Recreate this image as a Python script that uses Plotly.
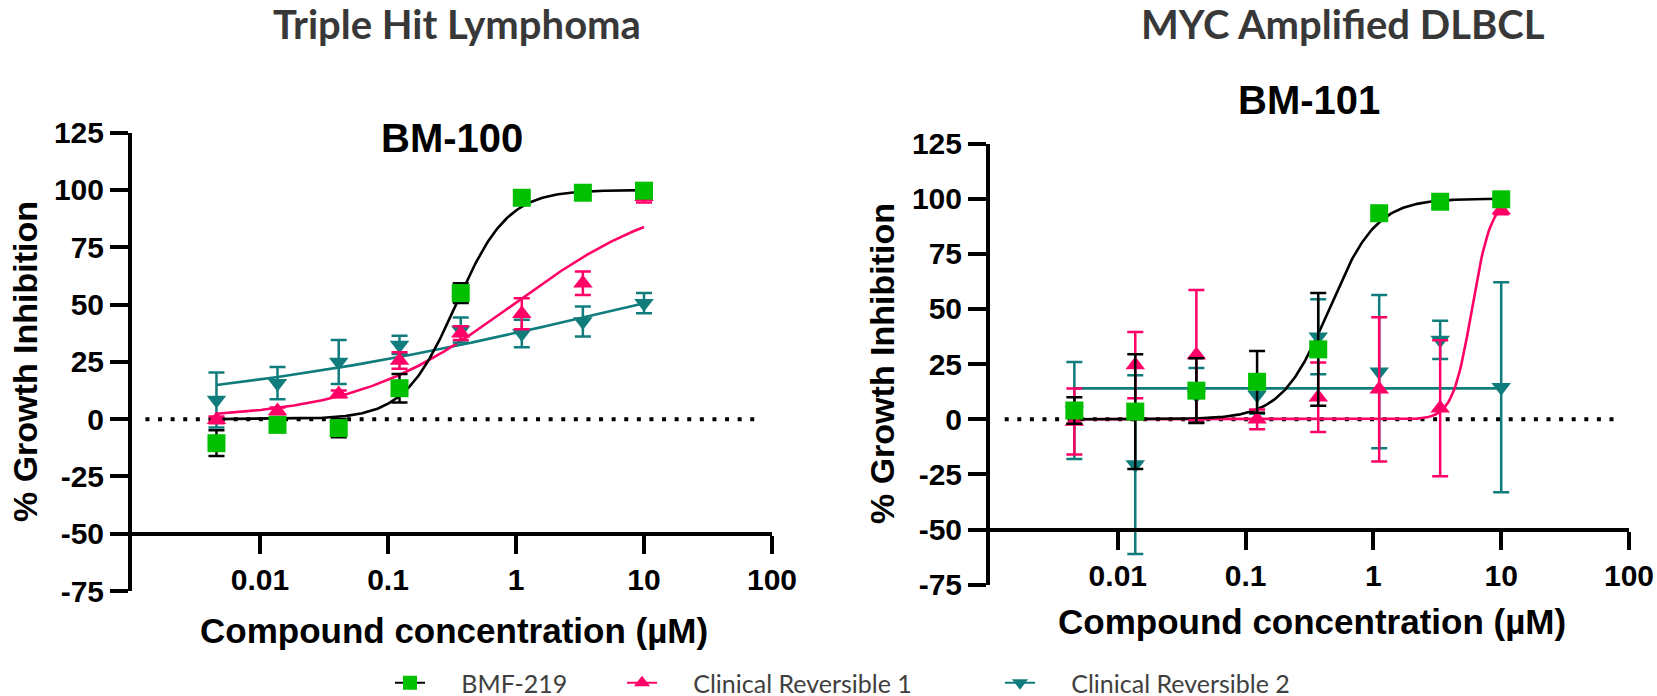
import numpy as np
import plotly.graph_objects as go

W, H = 1657, 696

# ---------------- data ----------------
conc = [0.00457, 0.0137, 0.0412, 0.123, 0.370, 1.11, 3.33, 10.0]
series_names = ["BMF-219", "Clinical Reversible 1", "Clinical Reversible 2"]
x_tickvals = [0.01, 0.1, 1, 10, 100]
x_ticktext = ["0.01", "0.1", "1", "10", "100"]
y_tickvals = [-75, -50, -25, 0, 25, 50, 75, 100, 125]
y_ticktext = ["-75", "-50", "-25", "0", "25", "50", "75", "100", "125"]

# Panel 1: BM-100 (Triple Hit Lymphoma)
bm100_bmf219 = [-10.5, -2.5, -3.9, 13.5, 55.0, 96.6, 98.8, 99.7]
bm100_bmf219_err = [5.6, 1.5, 4.0, 6.2, 4.3, 1.0, 0.8, 0.5]
bm100_cr1 = [-0.3, 3.6, 11.0, 25.6, 37.5, 46.0, 59.3, 97.0]
bm100_cr1_err = [1.5, 1.5, 1.5, 3.6, 3.0, 6.8, 5.1, 2.5]
bm100_cr2 = [8.4, 15.7, 24.9, 32.4, 38.9, 37.4, 42.6, 50.6]
bm100_cr2_err = [12.0, 7.0, 9.6, 4.0, 5.5, 6.0, 6.5, 4.4]
# fitted 4PL parameters: bottom, top, EC50, Hill
bm100_fit_bmf219 = [0.0, 100.0, 0.34, 2.15]
bm100_fit_cr1 = [0.0, 100.0, 0.95, 0.70]
bm100_fit_cr2 = [0.0, 100.0, 9.0, 0.23]

# Panel 2: BM-101 (MYC Amplified DLBCL)
bm101_bmf219 = [4.0, 3.5, 13.0, 17.0, 31.7, 93.4, 98.6, 99.7]
bm101_bmf219_err = [6.0, 26.0, 14.7, 14.0, 25.5, 1.0, 1.0, 0.5]
bm101_cr1 = [-1.0, 24.6, 29.1, 0.0, 10.0, 13.6, 5.0, 94.9]
bm101_cr1_err = [15.0, 15.0, 29.5, 4.5, 15.7, 32.7, 30.8, 2.0]
bm101_cr2 = [4.0, -20.5, 11.0, 11.0, 37.4, 21.6, 36.0, 14.5]
bm101_cr2_err = [22.0, 40.5, 12.3, 8.5, 17.0, 34.7, 8.7, 47.6]
bm101_fit_bmf219 = [0.0, 100.0, 0.45, 2.35]
bm101_fit_cr1 = [0.0, 100.0, 5.9, 5.8]
bm101_fit_cr2 = [14.0, 14.0, 1.0, 1.0]

# ---------------- style ----------------
GREEN, PINK, TEAL = "#00C000", "#FF0066", "#117C7C"
ARIAL = "Liberation Sans, Arial, sans-serif"
SOFT = "Lato, Open Sans, sans-serif"


def four_pl(x, p):
    bottom, top, ec50, hill = p
    return bottom + (top - bottom) / (1.0 + (ec50 / x) ** hill)


def px_x(p):
    return p / W


def px_y(p):
    return 1 - p / H


fig = go.Figure()

panels = [
    dict(xa="x", ya="y",
         data=[(bm100_bmf219, bm100_bmf219_err, bm100_fit_bmf219),
               (bm100_cr1, bm100_cr1_err, bm100_fit_cr1),
               (bm100_cr2, bm100_cr2_err, bm100_fit_cr2)]),
    dict(xa="x2", ya="y2",
         data=[(bm101_bmf219, bm101_bmf219_err, bm101_fit_bmf219),
               (bm101_cr1, bm101_cr1_err, bm101_fit_cr1),
               (bm101_cr2, bm101_cr2_err, bm101_fit_cr2)]),
]

line_cols = ["black", PINK, TEAL]
mark_cols = [GREEN, PINK, TEAL]
symbols = ["square", "triangle-up", "triangle-down"]
sizes = [18, 17, 17]

xfit = np.logspace(np.log10(conc[0]), np.log10(conc[-1]), 300)

for pan in panels:
    order = [2, 1, 0]
    for i in order:
        vals, errs, fit = pan["data"][i]
        fig.add_trace(go.Scatter(
            x=xfit, y=four_pl(xfit, fit), mode="lines",
            line=dict(color=line_cols[i], width=2.6),
            xaxis=pan["xa"], yaxis=pan["ya"], showlegend=False, hoverinfo="skip"))
    for i in order:
        vals, errs, fit = pan["data"][i]
        fig.add_trace(go.Scatter(
            x=conc, y=vals, mode="markers",
            marker=dict(symbol=symbols[i], size=sizes[i], color=mark_cols[i], line=dict(width=0)),
            error_y=dict(type="data", array=errs, visible=True, color=line_cols[i],
                         thickness=2.5, width=8),
            xaxis=pan["xa"], yaxis=pan["ya"], showlegend=False, cliponaxis=False))

# legend-only traces, one legend each
legend_ids = ["legend", "legend2", "legend3"]
for i in range(3):
    fig.add_trace(go.Scatter(
        x=[None], y=[None], mode="lines+markers", name="\u2003\u2002" + series_names[i],
        line=dict(color=line_cols[i], width=2),
        marker=dict(symbol=symbols[i], size=14, color=mark_cols[i]),
        legend=legend_ids[i], showlegend=True, xaxis="x", yaxis="y"))

# ---------------- layout ----------------
tickfont = dict(family=ARIAL, size=30, color="black", weight=700)
axis_common = dict(showline=True, linewidth=4, linecolor="black", ticks="outside",
                   ticklen=18, tickwidth=4, tickcolor="black", showgrid=False,
                   zeroline=False, tickfont=tickfont, automargin=False)

L = dict(x0=132, x1=772, ytop=132.7, ybot=591, xaxis_y=534)
R = dict(x0=990, x1=1629, ytop=143.5, ybot=584.8, xaxis_y=529.6)

layout_axes = {}
for k, P in (("", L), ("2", R)):
    layout_axes["xaxis" + k] = dict(
        axis_common, type="log", range=[-3, 2], domain=[px_x(P["x0"]), px_x(P["x1"])],
        anchor="free", position=px_y(P["xaxis_y"]), tickmode="array",
        tickvals=x_tickvals, ticktext=x_ticktext)
    layout_axes["yaxis" + k] = dict(
        axis_common, range=[-75, 125], domain=[px_y(P["ybot"]), px_y(P["ytop"])],
        anchor="x" + k, tickmode="array", tickvals=y_tickvals, ticktext=y_ticktext)

shapes = []
for xref, yref, a, b in (("x domain", "y", 0.021, 0.982), ("x2 domain", "y2", 0.023, 0.984)):
    shapes.append(dict(type="line", xref=xref, yref=yref, x0=a, x1=b, y0=0, y1=0,
                       line=dict(color="black", width=4, dash="4px,8.6px"), layer="below"))

ann = []


def add_text(text, x, y, size, family, color="black", weight=700, angle=0):
    ann.append(dict(text=text, x=px_x(x), y=px_y(y), xref="paper", yref="paper",
                    showarrow=False, xanchor="center", yanchor="middle", textangle=angle,
                    font=dict(family=family, size=size, color=color, weight=weight)))


add_text("Triple Hit Lymphoma", 457, 24, 40, SOFT, color="#383838")
add_text("MYC Amplified DLBCL", 1343, 24, 40, SOFT, color="#383838")
add_text("BM-100", 452, 138, 40, ARIAL)
add_text("BM-101", 1309, 100, 40, ARIAL)
add_text("% Growth Inhibition", 25, 362, 34, ARIAL, angle=-90)
add_text("% Growth Inhibition", 882, 364, 34, ARIAL, angle=-90)
add_text("Compound concentration (µM)", 454, 630, 35, ARIAL)
add_text("Compound concentration (µM)", 1312, 621, 35, ARIAL)

legend_font = dict(family=SOFT, size=25, color="#404040")
leg = {}
for lid, x0 in zip(legend_ids, [390, 622, 1000]):
    leg[lid] = dict(x=px_x(x0), xanchor="left", y=px_y(683), yanchor="middle",
                    orientation="h", bgcolor="rgba(0,0,0,0)", borderwidth=0,
                    font=legend_font, itemsizing="trace", itemclick=False,
                    itemdoubleclick=False)

fig.update_layout(
    width=W, height=H, margin=dict(l=0, r=0, t=0, b=0, autoexpand=False),
    paper_bgcolor="white", plot_bgcolor="rgba(0,0,0,0)",
    showlegend=True, shapes=shapes, annotations=ann, **layout_axes, **leg)

fig.write_html("out.html")
